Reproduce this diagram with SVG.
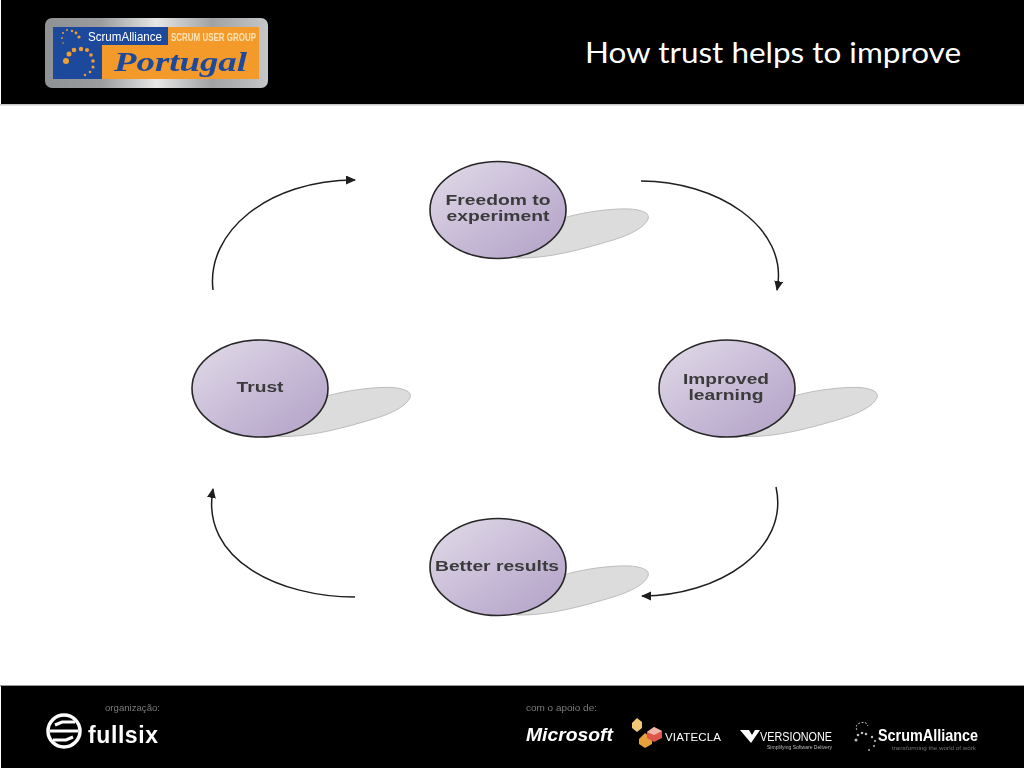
<svg xmlns="http://www.w3.org/2000/svg" width="1024" height="768" viewBox="0 0 1024 768">
<style>
.bar{fill:#000}
.disc{fill:url(#disc);stroke:#262626;stroke-width:1.6}
.shadow{fill:#dcdcdc;stroke:#bcbcbc;stroke-width:1}
.label{font-family:"Liberation Sans",Arial,sans-serif;font-size:15px;font-weight:700;fill:#3a3a3a;text-anchor:middle}
.link{fill:none;stroke:#1e1e1e;stroke-width:1.5;marker-end:url(#head)}
.small{font-family:"Liberation Sans",Arial,sans-serif;font-size:9.5px;fill:#7c7c7c}
.sans{font-family:"Liberation Sans",Arial,sans-serif;fill:#fff}
.title{font-family:Lato,"Liberation Sans",sans-serif;fill:#fff}
.d{fill:#f0a030}
.g{fill:#bdbdbd}
</style>
<defs>
<linearGradient id="disc" x1="0" y1="0" x2="1" y2="1"><stop offset="0" stop-color="#e2dce8"/><stop offset="0.55" stop-color="#c6b9d6"/><stop offset="1" stop-color="#b2a0c6"/></linearGradient>
<linearGradient id="steel" x1="0" y1="0" x2="1" y2="0"><stop offset="0" stop-color="#8f9294"/><stop offset="0.25" stop-color="#9a9c9e"/><stop offset="0.5" stop-color="#e6e6e6"/><stop offset="0.75" stop-color="#a0a2a4"/><stop offset="1" stop-color="#c4c6c8"/></linearGradient>
<marker id="head" markerUnits="userSpaceOnUse" markerWidth="11" markerHeight="10" refX="9" refY="4.5" orient="auto"><path d="M0,0 L10,4.5 L0,9 Z" fill="#1e1e1e"/></marker>
<path id="sh" class="shadow" d="M40,20 C58,5 108,-2 132,-1 C146,0 152,4 150,9 C147,17 132,25 115,30 C85,39 50,49 18,48 Z"/>
<filter id="soft" x="-5%" y="-5%" width="110%" height="110%"><feGaussianBlur stdDeviation="0.45"/></filter>
<filter id="softer" x="-5%" y="-5%" width="110%" height="110%"><feGaussianBlur stdDeviation="0.3"/></filter>
</defs>
<rect width="1024" height="768" fill="#fff"/>
<rect class="bar" x="1" y="0" width="1023" height="104"/>
<rect x="0" y="104" width="1024" height="1.5" fill="#c8c8c8"/>
<rect x="0" y="685" width="1024" height="1.5" fill="#999"/>
<rect class="bar" x="1" y="686" width="1023" height="82"/>
<text id="title" x="585" y="63" class="title" font-size="29" textLength="376" lengthAdjust="spacingAndGlyphs">How trust helps to improve</text>

<g id="logo-portugal" filter="url(#soft)">
<rect x="45" y="18" width="223" height="70" rx="7" fill="url(#steel)"/>
<rect x="53" y="27" width="206" height="52" fill="#f49a2c"/>
<path d="M53,27 H168 V45 H102 V79 H53 Z" fill="#1d4a9c"/>
<text x="88" y="41" class="sans" font-size="12.5" textLength="74" lengthAdjust="spacingAndGlyphs">ScrumAlliance</text>
<text x="171" y="41" class="sans" font-size="11" font-weight="700" textLength="85" lengthAdjust="spacingAndGlyphs" style="fill:#fde3b4">SCRUM USER GROUP</text>
<text x="114" y="71" font-family="Liberation Serif,serif" font-size="27" font-weight="700" font-style="italic" fill="#1d4a9c" textLength="133" lengthAdjust="spacingAndGlyphs">Portugal</text>
<circle class="d" cx="66" cy="61" r="3"/><circle class="d" cx="69" cy="54" r="2.500"/><circle class="d" cx="74" cy="50" r="2.300"/><circle class="d" cx="81" cy="49" r="2.200"/><circle class="d" cx="87" cy="50" r="2"/><circle class="d" cx="91" cy="55" r="1.800"/><circle class="d" cx="93" cy="61" r="1.800"/><circle class="d" cx="93" cy="67" r="1.500"/><circle class="d" cx="90" cy="72" r="1.300"/><circle class="d" cx="85" cy="75" r="1.200"/>
<circle class="d" cx="79" cy="37" r="1.600"/><circle class="d" cx="76" cy="33" r="1.400"/><circle class="d" cx="72" cy="31" r="1.200"/><circle class="d" cx="67" cy="30" r="1"/><circle class="d" cx="63" cy="33" r="1"/><circle class="d" cx="62" cy="38" r="0.900"/><circle class="d" cx="63" cy="43" r="0.800"/>
</g>

<g id="connectors">
<path class="link" d="M213,290 C206,232 268,180 355,180"/>
<path class="link" d="M641,181 C715,181 790,226 777,290"/>
<path class="link" d="M776,487 C790,550 718,596 642,596"/>
<path class="link" d="M355,597 C280,597 200,560 213,489"/>
</g>

<g id="node-freedom">
<use href="#sh" x="498" y="210"/>
<ellipse class="disc" cx="498" cy="210" rx="68" ry="48.500"/>
<text class="label" x="498" y="205" textLength="105" lengthAdjust="spacingAndGlyphs" filter="url(#softer)">Freedom to</text>
<text class="label" x="498" y="221" textLength="103" lengthAdjust="spacingAndGlyphs" filter="url(#softer)">experiment</text>
</g>
<g id="node-trust">
<use href="#sh" x="260" y="388.500"/>
<ellipse class="disc" cx="260" cy="388.500" rx="68" ry="48.500"/>
<text class="label" x="260" y="392" textLength="47" lengthAdjust="spacingAndGlyphs" filter="url(#softer)">Trust</text>
</g>
<g id="node-learning">
<use href="#sh" x="727" y="388.500"/>
<ellipse class="disc" cx="727" cy="388.500" rx="68" ry="48.500"/>
<text class="label" x="726" y="384" textLength="86" lengthAdjust="spacingAndGlyphs" filter="url(#softer)">Improved</text>
<text class="label" x="726" y="400" textLength="75" lengthAdjust="spacingAndGlyphs" filter="url(#softer)">learning</text>
</g>
<g id="node-results">
<use href="#sh" x="498" y="567"/>
<ellipse class="disc" cx="498" cy="567" rx="68" ry="48.500"/>
<text class="label" x="497" y="571" textLength="124" lengthAdjust="spacingAndGlyphs" filter="url(#softer)">Better results</text>
</g>

<g id="logo-fullsix" filter="url(#soft)">
<text x="105" y="711" class="small" textLength="55" lengthAdjust="spacingAndGlyphs">organização:</text>
<circle cx="64" cy="731" r="16" fill="none" stroke="#fff" stroke-width="3.500"/>
<path d="M50,731 H78 M55,725 L62,722 H75 M73,737 L66,740 H53" fill="none" stroke="#fff" stroke-width="3"/>
<text x="88" y="743" class="sans" font-size="23" font-weight="700" textLength="70" lengthAdjust="spacing">fullsix</text>
</g>

<g id="logo-sponsors" filter="url(#soft)">
<text x="526" y="711" class="small" textLength="71" lengthAdjust="spacingAndGlyphs">com o apoio de:</text>
<text x="526" y="741" class="sans" font-size="18" font-weight="700" font-style="italic" textLength="87" lengthAdjust="spacingAndGlyphs">Microsoft</text>
<path d="M632,723 L637,718 L642,722 L642,728 L637,732 L632,728 Z" fill="#f3c877"/>
<path d="M639,739 L645,733 L652,738 L652,744 L645,748 L639,744 Z" fill="#e8a03c"/>
<path d="M647,732 L654,727 L662,731 L662,738 L654,742 L647,738 Z" fill="#e0544a"/>
<path d="M647,732 L654,727 L662,731 L654,735 Z" fill="#f0b8a8"/>
<text x="665" y="741" class="sans" font-size="11.500" textLength="56" lengthAdjust="spacing">VIATECLA</text>
<path d="M740,730 H749 L752,735 L755,730 H760 L751,743 Z" fill="#fff"/>
<text x="760" y="741" class="sans" font-size="13" textLength="72" lengthAdjust="spacingAndGlyphs">VERSIONONE</text>
<text x="767" y="749" class="sans" font-size="5" textLength="65" lengthAdjust="spacingAndGlyphs" style="fill:#bbb">Simplifying Software Delivery</text>
<circle class="g" cx="856" cy="740" r="1.500"/><circle class="g" cx="858" cy="735" r="1.300"/><circle class="g" cx="862" cy="733" r="1.300"/><circle class="g" cx="866" cy="734" r="1.300"/><circle class="g" cx="872" cy="737" r="1.200"/><circle class="g" cx="875" cy="741" r="1.100"/><circle class="g" cx="874" cy="746" r="1"/><circle class="g" cx="869" cy="750" r="0.900"/>
<path d="M857,730 C854,725 860,721 866,723 L868,726" fill="none" stroke="#bdbdbd" stroke-width="1" stroke-dasharray="2 1.500"/>
<text x="878" y="741" class="sans" font-size="16" font-weight="700" textLength="100" lengthAdjust="spacingAndGlyphs">ScrumAlliance</text>
<text x="892" y="750" class="sans" font-size="5.500" textLength="84" lengthAdjust="spacingAndGlyphs" style="fill:#777">transforming the world of work</text>
</g>
</svg>
